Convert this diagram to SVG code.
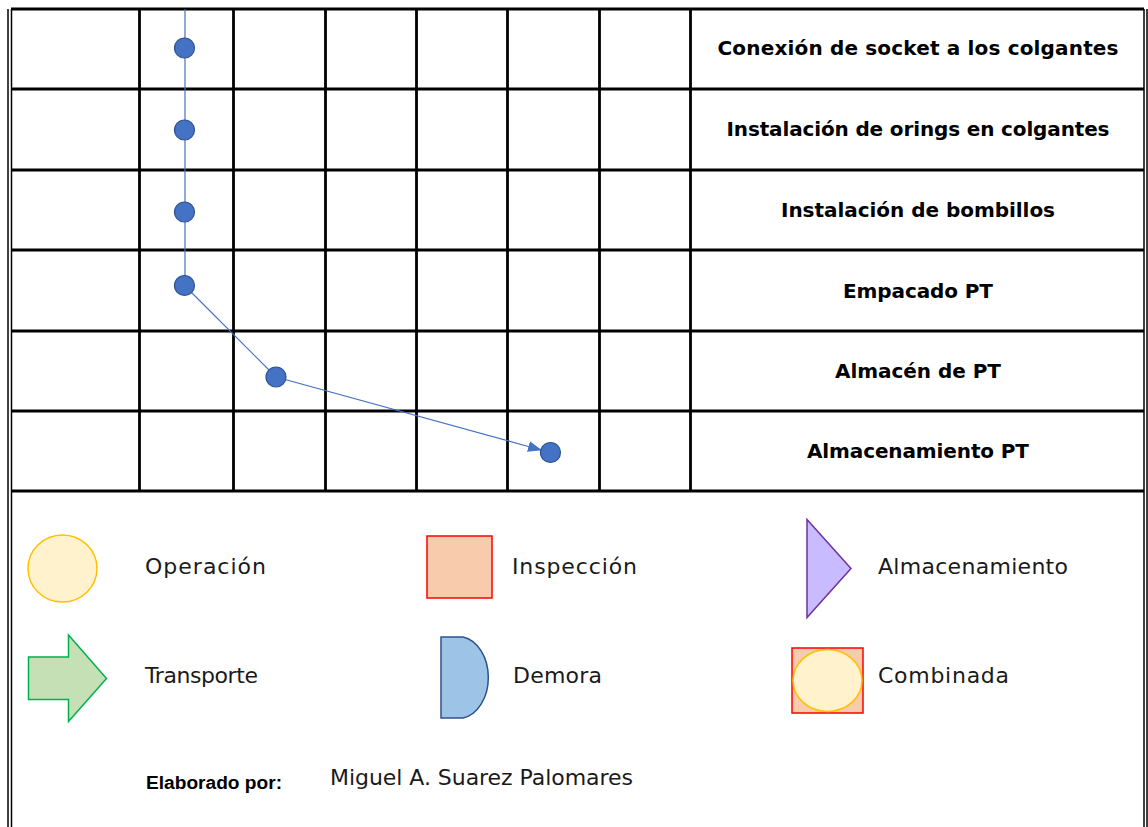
<svg xmlns="http://www.w3.org/2000/svg" width="1148" height="827" viewBox="0 0 1148 827">
<defs>
<style>
.grid{stroke:#000;stroke-width:2.8;fill:none}
.frame{stroke:#000;stroke-width:1.5;fill:none}
.step{font-family:"DejaVu Sans","Liberation Sans",sans-serif;font-weight:bold;font-size:20px;fill:#000;text-anchor:middle}
.leg{font-family:"DejaVu Sans","Liberation Sans",sans-serif;font-size:22px;fill:#1a1a1a}
.by{font-family:"Liberation Sans","DejaVu Sans",sans-serif;font-weight:bold;font-size:17.5px;fill:#000}
.dot{fill:#4472C4;stroke:#2F528F;stroke-width:1.2}
.conn{stroke:#4472C4;stroke-width:1.2;fill:none}
</style>
<marker id="arr" markerWidth="14" markerHeight="11" refX="13" refY="5.5" orient="auto" markerUnits="userSpaceOnUse" viewBox="0 0 14 11">
<path d="M0,0 L14,5.5 L0,11 Z" fill="#4472C4"/>
</marker>
</defs>
<rect width="1148" height="827" fill="#fff"/>
<g id="frame">
<line class="frame" x1="8" y1="9" x2="8" y2="827"/>
<line class="frame" x1="11.5" y1="9" x2="11.5" y2="827"/>
<line class="frame" x1="1144" y1="9" x2="1144" y2="827"/>
<line class="frame" x1="1147" y1="9" x2="1147" y2="827"/>
</g>
<g id="grid">
<line class="grid" x1="11" y1="9" x2="1144" y2="9"/>
<line class="grid" x1="11" y1="89" x2="1144" y2="89"/>
<line class="grid" x1="11" y1="170" x2="1144" y2="170"/>
<line class="grid" x1="11" y1="250" x2="1144" y2="250"/>
<line class="grid" x1="11" y1="331" x2="1144" y2="331"/>
<line class="grid" x1="11" y1="411" x2="1144" y2="411"/>
<line class="grid" x1="11" y1="491" x2="1144" y2="491"/>
<line class="grid" x1="139.5" y1="9" x2="139.5" y2="491"/>
<line class="grid" x1="233.5" y1="9" x2="233.5" y2="491"/>
<line class="grid" x1="325.5" y1="9" x2="325.5" y2="491"/>
<line class="grid" x1="416.5" y1="9" x2="416.5" y2="491"/>
<line class="grid" x1="507.5" y1="9" x2="507.5" y2="491"/>
<line class="grid" x1="599.5" y1="9" x2="599.5" y2="491"/>
<line class="grid" x1="690.5" y1="9" x2="690.5" y2="491"/>
</g>
<g id="labels">
<text class="step" x="918" y="55" textLength="401">Conexión de socket a los colgantes</text>
<text class="step" x="918" y="136" textLength="383">Instalación de orings en colgantes</text>
<text class="step" x="918" y="217" textLength="274">Instalación de bombillos</text>
<text class="step" x="918" y="298" textLength="150">Empacado PT</text>
<text class="step" x="918" y="378" textLength="166">Almacén de PT</text>
<text class="step" x="918" y="458" textLength="222">Almacenamiento PT</text>
</g>
<g id="connectors">
<line class="conn" x1="185" y1="9" x2="185" y2="285"/>
<line class="conn" x1="184" y1="285" x2="276" y2="377"/>
<line class="conn" x1="276" y1="377" x2="541" y2="450" marker-end="url(#arr)"/>
</g>
<g id="node1"><circle class="dot" cx="184.5" cy="48" r="10"/></g>
<g id="node2"><circle class="dot" cx="184.5" cy="130" r="10"/></g>
<g id="node3"><circle class="dot" cx="184.5" cy="212" r="10"/></g>
<g id="node4"><circle class="dot" cx="184.5" cy="285.5" r="10"/></g>
<g id="node5"><circle class="dot" cx="276" cy="377" r="10"/></g>
<g id="node6"><circle class="dot" cx="550.5" cy="452.5" r="10"/></g>
<g id="legend">
<g id="leg-operacion">
<ellipse cx="62.5" cy="568.5" rx="34.5" ry="33.5" fill="#FFF2CC" stroke="#FFC000" stroke-width="1.5"/>
<text class="leg" x="145" y="574" textLength="121">Operación</text>
</g>
<g id="leg-inspeccion">
<rect x="427" y="536" width="65" height="62" fill="#F8CBAD" stroke="#FF0000" stroke-width="1.5"/>
<text class="leg" x="512" y="574" textLength="125">Inspección</text>
</g>
<g id="leg-almacenamiento">
<path d="M807,519.5 L851,568.5 L807,617.5 Z" fill="#C9BBFF" stroke="#7030A0" stroke-width="1.5"/>
<text class="leg" x="878" y="574" textLength="190">Almacenamiento</text>
</g>
<g id="leg-transporte">
<path d="M28.5,657 L68.5,657 L68.5,635 L106.5,678.5 L68.5,721.5 L68.5,699.5 L28.5,699.5 Z" fill="#C5E0B4" stroke="#00B050" stroke-width="1.5"/>
<text class="leg" x="145" y="683" textLength="113">Transporte</text>
</g>
<g id="leg-demora">
<path d="M441,637 L463,637 A30,41 0 0 1 463,718 L441,718 Z" fill="#9DC3E6" stroke="#2F528F" stroke-width="1.5"/>
<text class="leg" x="513" y="683" textLength="89">Demora</text>
</g>
<g id="leg-combinada">
<rect x="792" y="648" width="71" height="65" fill="#F8CBAD" stroke="#FF0000" stroke-width="1.5"/>
<ellipse cx="827.5" cy="680.5" rx="34.5" ry="31" fill="#FFF2CC" stroke="#FFC000" stroke-width="1.5"/>
<text class="leg" x="878" y="683" textLength="131">Combinada</text>
</g>
</g>
<g id="footer">
<text class="by" x="146" y="789" textLength="136" lengthAdjust="spacingAndGlyphs">Elaborado por:</text>
<text class="leg" x="330" y="785" textLength="303">Miguel A. Suarez Palomares</text>
</g>
</svg>
